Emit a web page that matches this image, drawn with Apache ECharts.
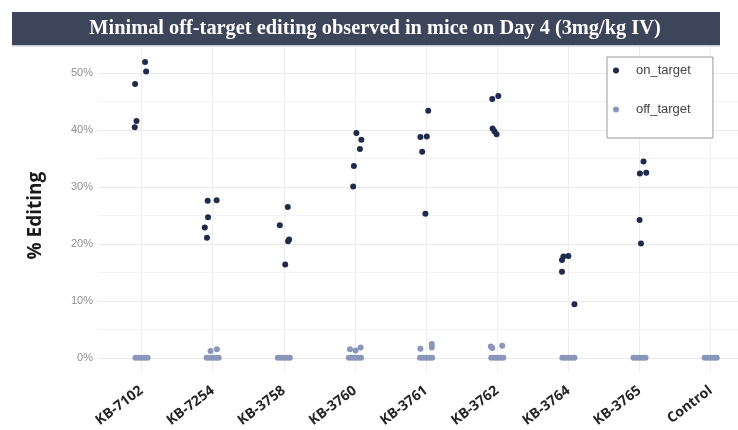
<!DOCTYPE html>
<html><head><meta charset="utf-8">
<script src="https://cdn.jsdelivr.net/npm/echarts@6/dist/echarts.min.js"></script>
<style>html,body{margin:0;padding:0;background:#fff}#c{width:738px;height:430px}</style>
</head><body><div id="c"></div>
<script>
var categories = ['KB-7102','KB-7254','KB-3758','KB-3760','KB-3761','KB-3762','KB-3764','KB-3765','Control'];
var yTicks = [0, 10, 20, 30, 40, 50];
// on-target % editing per group, with horizontal jitter (fraction of category spacing)
var onTarget = [
  [48.1, 52.0, 50.3, 41.6, 40.5],
  [27.6, 27.7, 24.7, 22.9, 21.1],
  [26.5, 23.3, 20.5, 20.8, 16.4],
  [39.5, 38.3, 36.7, 33.7, 30.1],
  [43.4, 38.8, 38.9, 36.2, 25.3],
  [46.0, 45.5, 40.3, 39.8, 39.3],
  [17.9, 17.8, 17.2, 15.1, 9.4],
  [34.5, 32.4, 32.5, 24.2, 20.1],
  []
];
var onJitter = [
  [-0.09, 0.05, 0.065, -0.07, -0.095],
  [-0.07, 0.056, -0.065, -0.11, -0.08],
  [0.056, -0.056, 0.06, 0.075, 0.02],
  [0.02, 0.09, 0.07, -0.015, -0.025],
  [0.03, -0.08, 0.01, -0.055, -0.01],
  [0.015, -0.07, -0.065, -0.04, -0.01],
  [0.0, -0.07, -0.09, -0.09, 0.085],
  [0.056, 0.005, 0.094, 0.0, 0.02],
  []
];
// off-target % editing per group
var offTarget = [
  [0, 0, 0, 0, 0],
  [0, 0, 0, 0, 0, 1.2, 1.5],
  [0, 0, 0, 0, 0],
  [0, 0, 0, 0, 0, 1.5, 1.3, 1.8],
  [0, 0, 0, 0, 0, 1.6, 2.4, 1.8],
  [0, 0, 0, 0, 0, 2.0, 1.7, 2.1],
  [0, 0, 0, 0, 0],
  [0, 0, 0, 0, 0],
  [0, 0, 0, 0, 0]
];
var offJitter = [
  [-0.085, -0.04, 0, 0.045, 0.085],
  [-0.085, -0.04, 0, 0.045, 0.085, -0.03, 0.06],
  [-0.085, -0.04, 0, 0.045, 0.085],
  [-0.085, -0.04, 0, 0.045, 0.085, -0.07, 0.01, 0.08],
  [-0.085, -0.04, 0, 0.045, 0.085, -0.08, 0.08, 0.08],
  [-0.085, -0.04, 0, 0.045, 0.085, -0.09, -0.07, 0.07],
  [-0.085, -0.04, 0, 0.045, 0.085],
  [-0.085, -0.04, 0, 0.045, 0.085],
  [-0.085, -0.04, 0, 0.045, 0.085]
];

function pts(vals, jit) {
  var out = [];
  vals.forEach(function (g, i) { g.forEach(function (v, j) { out.push([i + jit[i][j], v]); }); });
  return out;
}

var chart = echarts.init(document.getElementById('c'), null, {renderer: 'canvas'});
chart.setOption({
  animation: false,
  backgroundColor: '#fff',
  grid: [
    {left: 98, right: 0, top: 73.3, bottom: 72.2},
    {left: 141.5, right: 27.3, top: 44.85, bottom: 58}
  ],
  xAxis: [
    {gridIndex: 0, type: 'value', show: false, min: 0, max: 1},
    {gridIndex: 1, type: 'value', min: 0, max: categories.length - 1, interval: 1,
     axisLine: {show: false}, axisTick: {show: false},
     splitLine: {show: true, lineStyle: {color: '#eeeeee', width: 1}},
     axisLabel: {rotate: 37, margin: 17, color: '#262626', fontFamily: 'Open Sans', fontWeight: 'bold', fontSize: 14,
       formatter: function (v) { return categories[Math.round(v)] || ''; }}}
  ],
  yAxis: [
    {gridIndex: 0, type: 'value', min: yTicks[0], max: yTicks[yTicks.length - 1], interval: 10,
     axisLine: {show: false}, axisTick: {show: false},
     axisLabel: {formatter: '{value}%', color: '#8f8f8f', fontSize: 11, fontFamily: 'Liberation Sans', margin: 5},
     splitLine: {lineStyle: {color: '#e9e9e9'}},
     minorTick: {show: false, splitNumber: 2},
     minorSplitLine: {show: true, lineStyle: {color: '#f3f3f3'}},
     name: '% Editing', nameLocation: 'middle', nameGap: 53,
     nameTextStyle: {fontFamily: 'Open Sans', fontWeight: 'bold', fontSize: 19, color: '#1a1a1a'}},
    {gridIndex: 1, type: 'value', show: false, min: -2.5, max: 55, splitLine: {show: false}}
  ],
  legend: {
    orient: 'vertical', left: 607, top: 57,
    data: ['on_target', 'off_target'],
    icon: 'circle', itemWidth: 6, itemHeight: 6, itemGap: 26,
    padding: [7, 22, 22, 6],
    borderColor: '#999', borderWidth: 1, backgroundColor: '#fff',
    textStyle: {fontFamily: 'Liberation Sans', fontSize: 13, color: '#444', padding: [0, 0, 0, 12]}
  },
  series: [
    {name: 'on_target', type: 'scatter', xAxisIndex: 1, yAxisIndex: 1, clip: false,
     symbolSize: 6, itemStyle: {color: '#1f2b4d', opacity: 1}, data: pts(onTarget, onJitter), z: 3},
    {name: 'off_target', type: 'scatter', xAxisIndex: 1, yAxisIndex: 1, clip: false,
     symbolSize: 6, itemStyle: {color: '#8a96bb', opacity: 1}, data: pts(offTarget, offJitter), z: 4}
  ],
  graphic: [
    {type: 'rect', shape: {x: 12, y: 12, width: 708, height: 33}, style: {fill: '#3c4559'}, z: 100},
    {type: 'rect', shape: {x: 12, y: 45, width: 708, height: 1.5}, style: {fill: '#c5cad6'}, z: 100},
    {type: 'text', x: 375, y: 29, z: 101, scaleX: 0.97,
     style: {text: 'Minimal off-target editing observed in mice on Day 4 (3mg/kg IV)', fill: '#ffffff',
       font: 'bold 21px "Liberation Serif"', textAlign: 'center', textVerticalAlign: 'middle'}}
  ]
});
</script></body></html>
